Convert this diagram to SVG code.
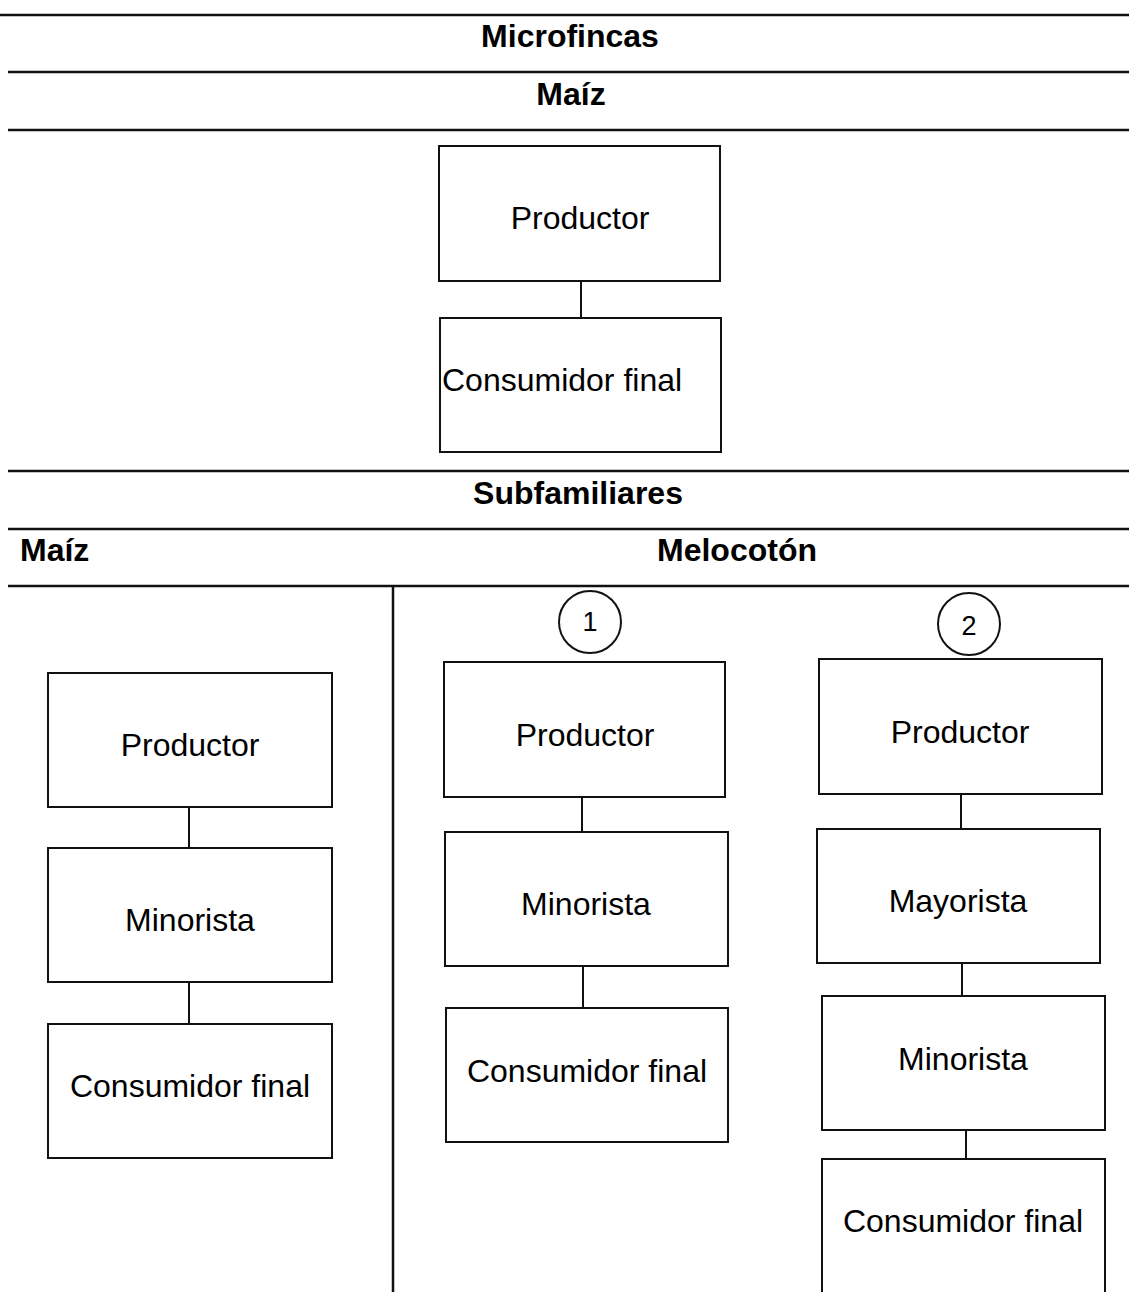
<svg xmlns="http://www.w3.org/2000/svg" width="1129" height="1292" viewBox="0 0 1129 1292">
<style>
.rule{stroke:#111;stroke-width:2.5;fill:none}
.box{fill:#fff;stroke:#111;stroke-width:2}
.con{stroke:#111;stroke-width:2;fill:none}
.h{font-family:"Liberation Sans",Arial,sans-serif;font-weight:bold;font-size:32px;fill:#000}
.t{font-family:"Liberation Sans",Arial,sans-serif;font-size:32px;fill:#000}
.n{font-family:"Liberation Sans",Arial,sans-serif;font-size:27px;fill:#000}
</style>
<rect width="1129" height="1292" fill="#fff"/>
<g id="rules">
<line class="rule" x1="0" y1="15" x2="1129" y2="15"/>
<line class="rule" x1="8" y1="72" x2="1129" y2="72"/>
<line class="rule" x1="8" y1="130" x2="1129" y2="130"/>
<line class="rule" x1="8" y1="471" x2="1129" y2="471"/>
<line class="rule" x1="8" y1="529" x2="1129" y2="529"/>
<line class="rule" x1="8" y1="586" x2="1129" y2="586"/>
<line class="rule" x1="393" y1="586" x2="393" y2="1292"/>
</g>
<g id="headers">
<text class="h" x="570" y="47" text-anchor="middle">Microfincas</text>
<text class="h" x="571" y="105" text-anchor="middle">Maíz</text>
<text class="h" x="578" y="504" text-anchor="middle">Subfamiliares</text>
<text class="h" x="20" y="561">Maíz</text>
<text class="h" x="737" y="561" text-anchor="middle">Melocotón</text>
</g>
<g id="connectors">
<line class="con" x1="581" y1="281" x2="581" y2="318"/>
<line class="con" x1="189" y1="807" x2="189" y2="848"/>
<line class="con" x1="189" y1="982" x2="189" y2="1024"/>
<line class="con" x1="582" y1="797" x2="582" y2="832"/>
<line class="con" x1="583" y1="966" x2="583" y2="1008"/>
<line class="con" x1="961" y1="794" x2="961" y2="829"/>
<line class="con" x1="962" y1="963" x2="962" y2="996"/>
<line class="con" x1="966" y1="1130" x2="966" y2="1159"/>
</g>
<g id="mf-productor"><rect class="box" x="439" y="146" width="281" height="135"/><text class="t" x="580" y="229" text-anchor="middle">Productor</text></g>
<g id="mf-consumidor"><rect class="box" x="440" y="318" width="281" height="134"/><text class="t" x="442" y="391">Consumidor final</text></g>
<g id="m-productor"><rect class="box" x="48" y="673" width="284" height="134"/><text class="t" x="190" y="756" text-anchor="middle">Productor</text></g>
<g id="m-minorista"><rect class="box" x="48" y="848" width="284" height="134"/><text class="t" x="190" y="931" text-anchor="middle">Minorista</text></g>
<g id="m-consumidor"><rect class="box" x="48" y="1024" width="284" height="134"/><text class="t" x="190" y="1097" text-anchor="middle">Consumidor final</text></g>
<g id="c1"><circle cx="590" cy="622" r="31" fill="none" stroke="#111" stroke-width="2"/><text class="n" x="590" y="631" text-anchor="middle">1</text></g>
<g id="c2"><circle cx="969" cy="624" r="31" fill="none" stroke="#111" stroke-width="2"/><text class="n" x="969" y="635" text-anchor="middle">2</text></g>
<g id="p1-productor"><rect class="box" x="444" y="662" width="281" height="135"/><text class="t" x="585" y="746" text-anchor="middle">Productor</text></g>
<g id="p1-minorista"><rect class="box" x="445" y="832" width="283" height="134"/><text class="t" x="586" y="915" text-anchor="middle">Minorista</text></g>
<g id="p1-consumidor"><rect class="box" x="446" y="1008" width="282" height="134"/><text class="t" x="587" y="1082" text-anchor="middle">Consumidor final</text></g>
<g id="p2-productor"><rect class="box" x="819" y="659" width="283" height="135"/><text class="t" x="960" y="743" text-anchor="middle">Productor</text></g>
<g id="p2-mayorista"><rect class="box" x="817" y="829" width="283" height="134"/><text class="t" x="958" y="912" text-anchor="middle">Mayorista</text></g>
<g id="p2-minorista"><rect class="box" x="822" y="996" width="283" height="134"/><text class="t" x="963" y="1070" text-anchor="middle">Minorista</text></g>
<g id="p2-consumidor"><rect class="box" x="822" y="1159" width="283" height="140"/><text class="t" x="963" y="1232" text-anchor="middle">Consumidor final</text></g>
</svg>
